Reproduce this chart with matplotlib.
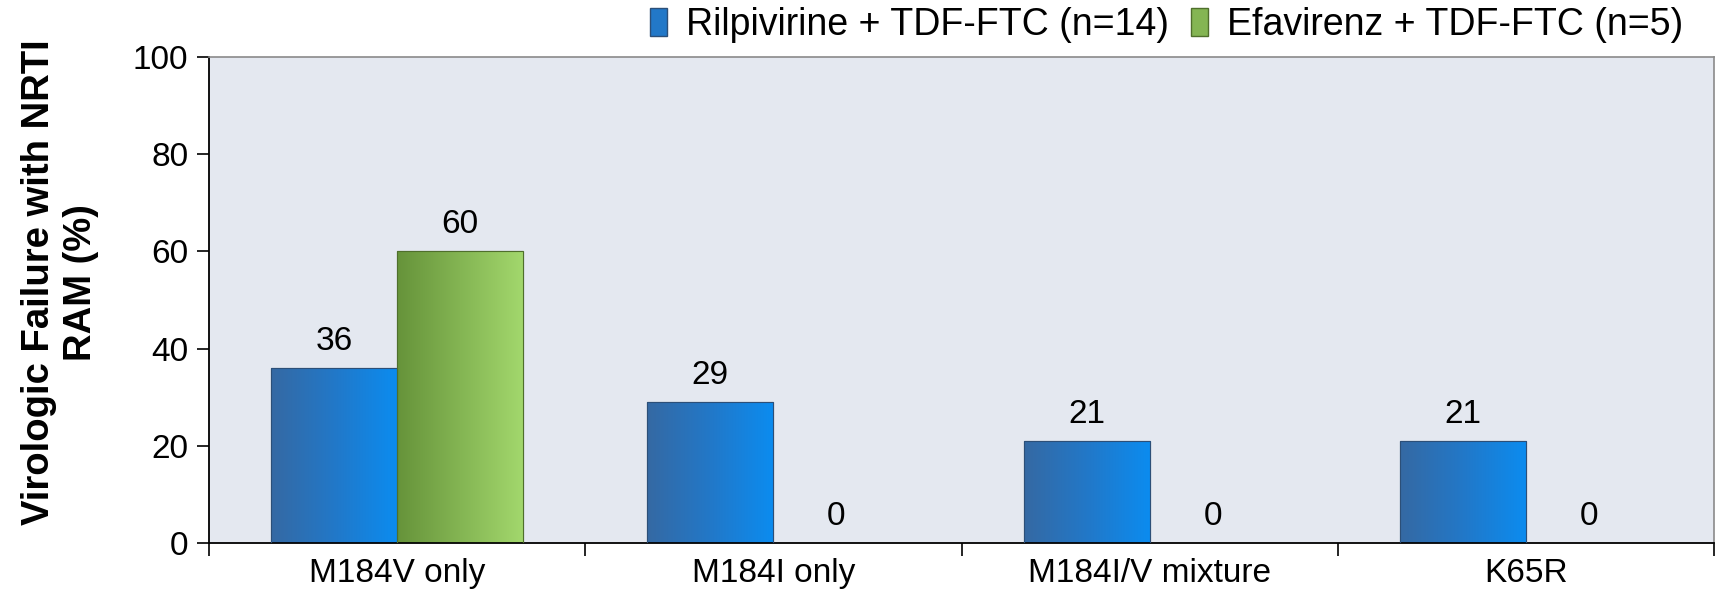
import numpy as np
import matplotlib
matplotlib.use("Agg")
import matplotlib.pyplot as plt
from matplotlib.patches import Patch
from matplotlib.colors import LinearSegmentedColormap

plt.rcParams.update({"font.family": ["Liberation Sans", "DejaVu Sans"], "font.size": 24})

# ---- data ----
categories = ["M184V only", "M184I only", "M184I/V mixture", "K65R"]
rilpivirine = [36, 29, 21, 21]
efavirenz = [60, 0, 0, 0]
series_names = ["Rilpivirine + TDF-FTC (n=14)", "Efavirenz + TDF-FTC (n=5)"]

blue_cmap = LinearSegmentedColormap.from_list("b", ["#3569a3", "#2278c8", "#0b8cf0"])
green_cmap = LinearSegmentedColormap.from_list("g", ["#66933a", "#84b553", "#a3d86d"])

fig = plt.figure(figsize=(17.17, 5.9), dpi=100)
ax = fig.add_axes([0.1217, 0.0797, 0.8766, 0.8237])
ax.set_facecolor("#e4e8f0")

x = np.arange(len(categories))
w = 0.335
b1 = ax.bar(x - w / 2, rilpivirine, width=w, color="#2278c8", edgecolor="#2c4f78", linewidth=0.8, zorder=2)
b2 = ax.bar(x + w / 2, efavirenz, width=w, color="#84b553", edgecolor="#4f6f2c", linewidth=0.8, zorder=2)

# horizontal gradient fill clipped to each bar
grad = np.linspace(0, 1, 256).reshape(1, -1)
for bars, cm in ((b1, blue_cmap), (b2, green_cmap)):
    for p in bars:
        h = p.get_height()
        if h <= 0:
            continue
        im = ax.imshow(grad, cmap=cm, aspect="auto", zorder=2.5,
                       extent=[p.get_x(), p.get_x() + p.get_width(), 0, h])
        im.set_clip_path(p)
        ax.add_patch(plt.Rectangle((p.get_x(), 0), p.get_width(), h, fill=False,
                                   edgecolor=p.get_edgecolor(), linewidth=0.8, zorder=3))

for bars, vals in ((b1, rilpivirine), (b2, efavirenz)):
    for p, v in zip(bars, vals):
        ax.annotate(f"{v}", (p.get_x() + p.get_width() / 2, v), xytext=(0, 8),
                    textcoords="offset points", ha="center", va="bottom", fontsize=24)

ax.set_xlim(-0.5, len(categories) - 0.5)
ax.set_ylim(0, 100)
ax.set_yticks(range(0, 101, 20))
ax.set_xticks(x)
ax.set_xticklabels(categories, fontsize=24)
ax.tick_params(axis="x", which="major", length=0, pad=11)
ax.set_xticks(np.arange(-0.5, len(categories), 1), minor=True)
ax.tick_params(axis="x", which="minor", length=9, width=1.2, direction="out")
ax.tick_params(axis="y", length=9, width=1.2, direction="out", labelsize=24, pad=6)

for s in ("left", "bottom"):
    ax.spines[s].set_color("black")
    ax.spines[s].set_linewidth(1.3)
for s in ("top", "right"):
    ax.spines[s].set_color("#8a8a8a")
    ax.spines[s].set_linewidth(1.2)

ax.set_ylabel("Virologic Failure with NRTI\nRAM (%)", fontsize=27.5, fontweight="bold",
              linespacing=1.2)
ax.yaxis.set_label_coords(-0.073, 0.536)

handles = [Patch(facecolor="#2278c8", edgecolor="#2c4f78"),
           Patch(facecolor="#84b553", edgecolor="#4f6f2c")]
fig.legend(handles, series_names, loc="upper right", bbox_to_anchor=(1.0, 1.045), ncol=2,
           frameon=False, fontsize=27, handlelength=0.45, handleheight=0.75,
           handletextpad=0.5, columnspacing=0.6)

fig.savefig("out.png", dpi=100)
